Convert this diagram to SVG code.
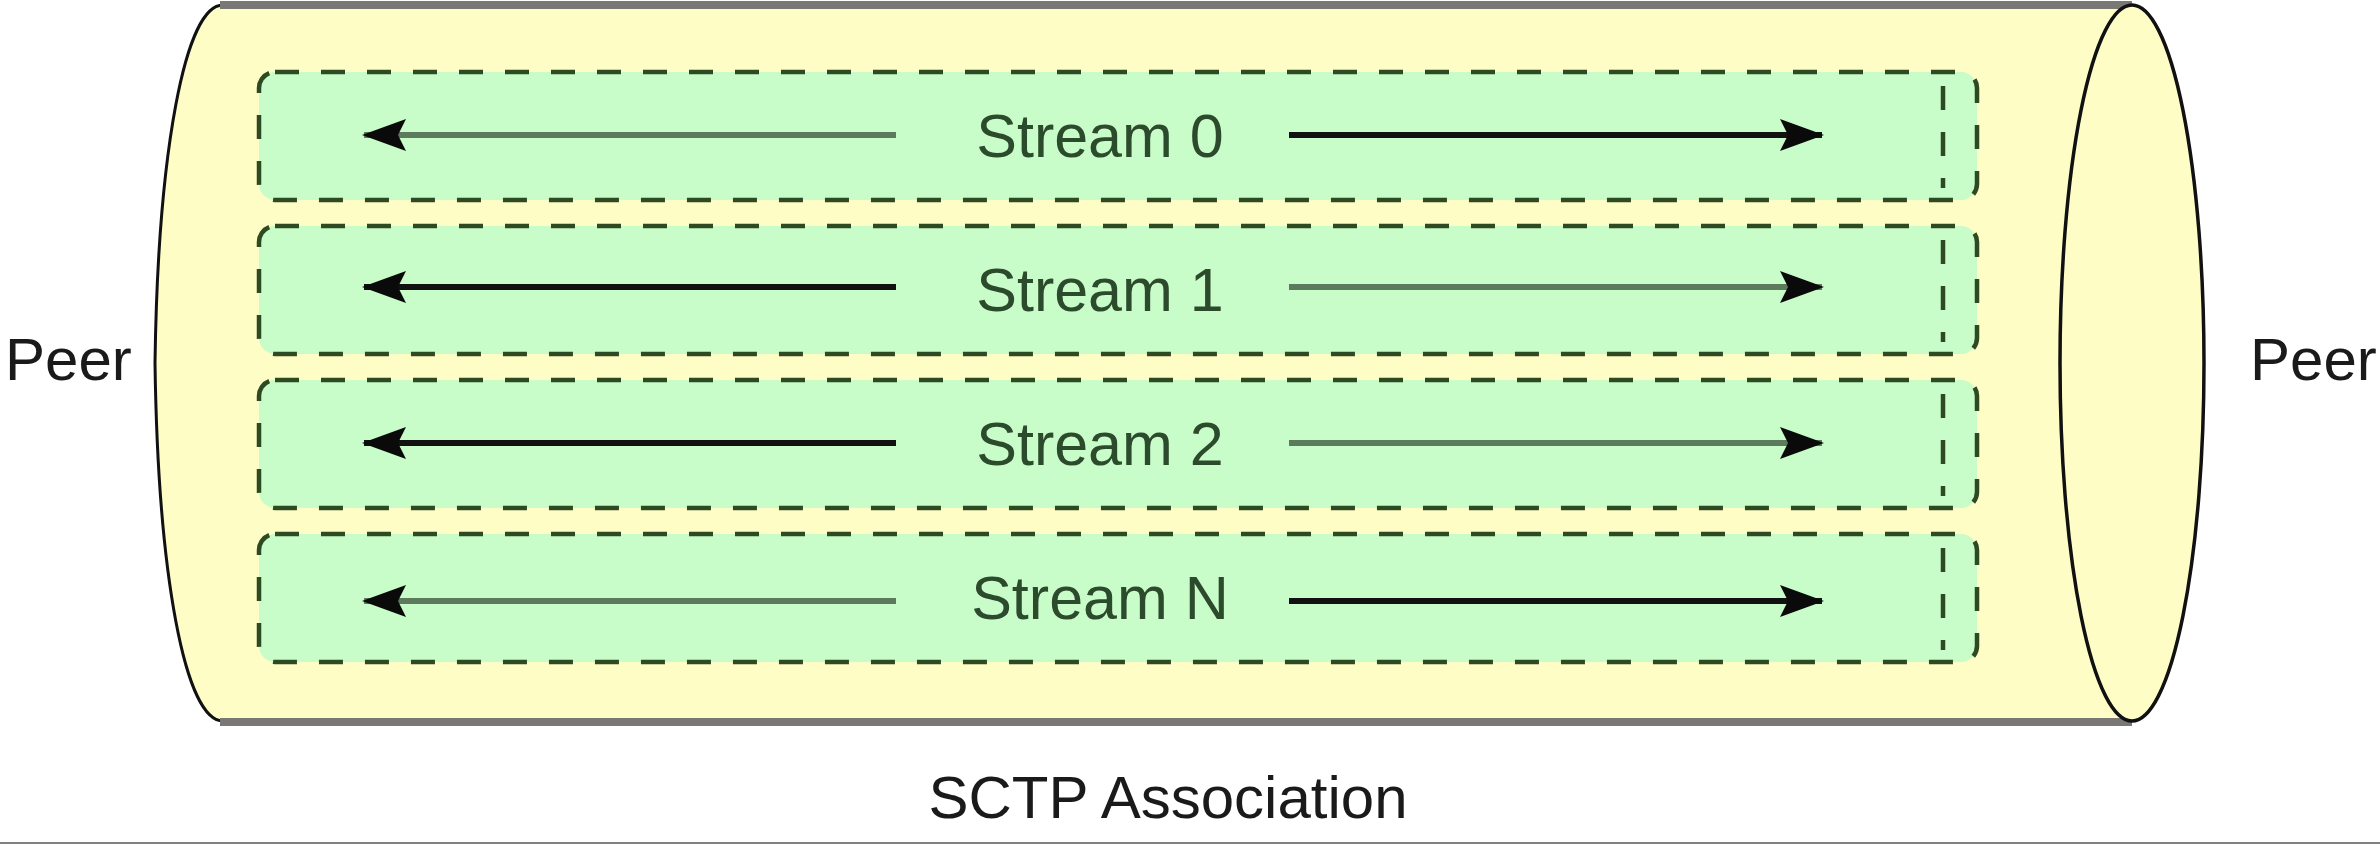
<svg xmlns="http://www.w3.org/2000/svg" width="2380" height="844" viewBox="0 0 2380 844">
<style>
.stream{fill:#c8fcc8;stroke:#2e4a22;stroke-width:4.5;stroke-dasharray:24,22}
.inner{fill:none;stroke:#2e4a22;stroke-width:4.5;stroke-dasharray:24,22}
.lbl{font-family:"Liberation Sans",Arial,sans-serif;font-size:61px;fill:#2c4a2c;text-anchor:middle}
.txt{font-family:"Liberation Sans",Arial,sans-serif;font-size:60px;fill:#1a1a1a}
.a1{stroke:#111;stroke-width:6;fill:none}
.a2{stroke:#5c7a5c;stroke-width:6;fill:none}
</style>
<defs>
<marker id="ah" viewBox="0 0 44 32" refX="42" refY="16" markerWidth="44" markerHeight="32" markerUnits="userSpaceOnUse" orient="auto-start-reverse">
<path d="M0,0 L44,16 L0,32 L8,16 Z" fill="#0a0a0a"/>
</marker>
</defs>
<rect x="0" y="0" width="2380" height="844" fill="#ffffff"/>
<g id="cylinder">
<path d="M223,5 L2132,5 L2132,721 L223,721 C185,721 158,575 155,363 C158,151 185,5 223,5 Z" fill="#fffdc6"/>
<path d="M223,721 C185,721 158,575 155,363 C158,151 185,5 223,5" fill="none" stroke="#111" stroke-width="3"/>
<line x1="220" y1="5" x2="2132" y2="5" stroke="#7a7874" stroke-width="8"/>
<line x1="220" y1="722" x2="2132" y2="722" stroke="#7a7874" stroke-width="8"/>
<ellipse cx="2132" cy="363" rx="72" ry="358" fill="#fffdc6" stroke="#111" stroke-width="3.5"/>
</g>
<g id="stream0">
<rect class="stream" x="259" y="72" width="1718" height="128" rx="16"/>
<line class="inner" x1="1943" y1="86" x2="1943" y2="188"/>
<text class="lbl" x="1100" y="157">Stream 0</text>
</g>
<g id="stream1">
<rect class="stream" x="259" y="226" width="1718" height="128" rx="16"/>
<line class="inner" x1="1943" y1="240" x2="1943" y2="342"/>
<text class="lbl" x="1100" y="311">Stream 1</text>
</g>
<g id="stream2">
<rect class="stream" x="259" y="380" width="1718" height="128" rx="16"/>
<line class="inner" x1="1943" y1="394" x2="1943" y2="496"/>
<text class="lbl" x="1100" y="465">Stream 2</text>
</g>
<g id="streamN">
<rect class="stream" x="259" y="534" width="1718" height="128" rx="16"/>
<line class="inner" x1="1943" y1="548" x2="1943" y2="650"/>
<text class="lbl" x="1100" y="619">Stream N</text>
</g>
<g id="connectors">
<line class="a2" x1="896" y1="135" x2="364" y2="135" marker-end="url(#ah)"/>
<line class="a1" x1="1289" y1="135" x2="1822" y2="135" marker-end="url(#ah)"/>
<line class="a1" x1="896" y1="287" x2="364" y2="287" marker-end="url(#ah)"/>
<line class="a2" x1="1289" y1="287" x2="1822" y2="287" marker-end="url(#ah)"/>
<line class="a1" x1="896" y1="443" x2="364" y2="443" marker-end="url(#ah)"/>
<line class="a2" x1="1289" y1="443" x2="1822" y2="443" marker-end="url(#ah)"/>
<line class="a2" x1="896" y1="601" x2="364" y2="601" marker-end="url(#ah)"/>
<line class="a1" x1="1289" y1="601" x2="1822" y2="601" marker-end="url(#ah)"/>
</g>
<g id="peer-left"><text class="txt" x="5" y="380">Peer</text></g>
<g id="peer-right"><text class="txt" x="2250" y="380">Peer</text></g>
<g id="caption"><text class="txt" x="1168" y="818" text-anchor="middle">SCTP Association</text></g>
<rect x="0" y="842" width="2380" height="2" fill="#808080"/>
</svg>
